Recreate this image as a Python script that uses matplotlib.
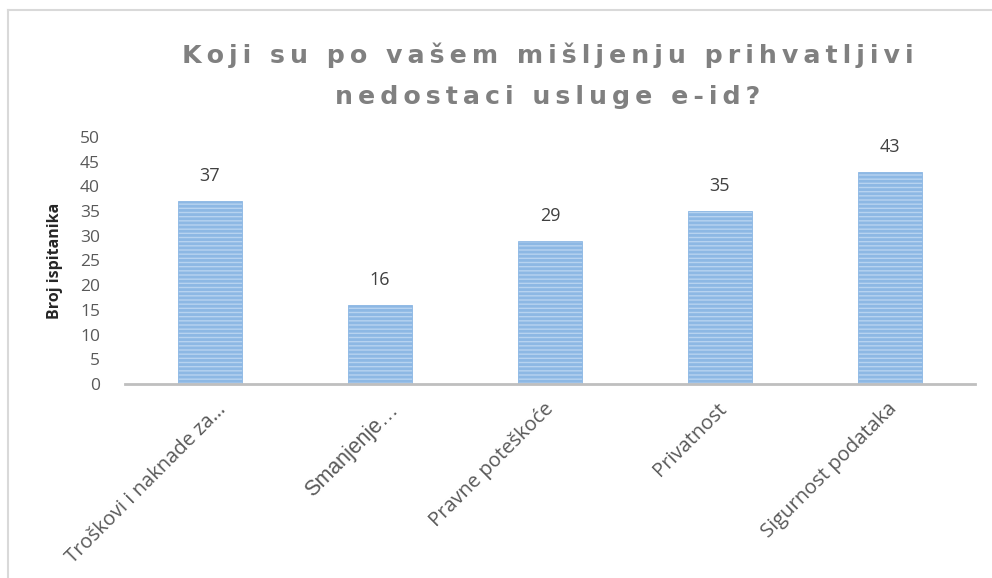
import matplotlib
matplotlib.use("Agg")
import matplotlib.pyplot as plt
import matplotlib.transforms as mtransforms
from matplotlib.lines import Line2D

categories = ["Troškovi i naknade za…", "Smanjenje…", "Pravne poteškoće", "Privatnost", "Sigurnost podataka"]
values = [37, 16, 29, 35, 43]
yticks = [0, 5, 10, 15, 20, 25, 30, 35, 40, 45, 50]
title_lines = ["Koji su po vašem mišljenju prihvatljivi", "nedostaci usluge e-id?"]
ylabel = "Broj ispitanika"

plt.rcParams['hatch.color'] = '#5B9BD5'
plt.rcParams['hatch.linewidth'] = 2.0

fig = plt.figure(figsize=(9.92, 5.78), dpi=100)
ax = fig.add_axes([125/992, 1-384/578, 850/992, (384-137)/578])

x = list(range(len(categories)))
ax.bar(x, values, width=0.38, color='#B7D3F0', edgecolor='#8DB8E4', linewidth=0.6,
       hatch='----', zorder=2)
for xi, v in zip(x, values):
    ax.text(xi, v + 3.2, str(v), ha='center', va='bottom', fontsize=13,
            color='#404040', family='Open Sans')

ax.set_xlim(-0.5, len(categories) - 0.5)
ax.set_ylim(0, 50)
ax.set_yticks(yticks)
ax.set_yticklabels([str(t) for t in yticks], fontsize=12.5, color='#595959', family='Open Sans')
ax.tick_params(axis='y', length=0, pad=18)
ax.tick_params(axis='x', length=0, pad=11)
ax.set_xticks(x)
labels = ax.set_xticklabels(categories, rotation=45, ha='right', rotation_mode='anchor',
                            fontsize=14.5, color='#595959', family='Open Sans')
labels[1].set_fontsize(15.5)
labels[1].set_family('Liberation Sans')
shifts_px = [6, 8, -6, -3, -3]
for lb, d in zip(labels, shifts_px):
    off = mtransforms.ScaledTranslation(d/100, 0, fig.dpi_scale_trans)
    lb.set_transform(lb.get_transform() + off)

for s in ['top', 'right', 'left']:
    ax.spines[s].set_visible(False)
ax.spines['bottom'].set_color('#BFBFBF')
ax.spines['bottom'].set_linewidth(2)
ax.spines['bottom'].set_zorder(3)

ax.set_ylabel(ylabel, fontsize=11.5, fontweight='bold', color='#262626', family='Open Sans', labelpad=12)

sp = '\u2009'
for i, line in enumerate(title_lines):
    fig.text(548/992, 1 - (55 + 42*i)/578, sp.join(line), ha='center', va='center',
             fontsize=18.2, fontweight='bold', color='#808080', family='DejaVu Sans')

# chart border
fig.add_artist(Line2D([8/992, 8/992], [0, 1-10/578], color='#D9D9D9', lw=1.5, transform=fig.transFigure))
fig.add_artist(Line2D([8/992, 1], [1-10/578, 1-10/578], color='#D9D9D9', lw=1.5, transform=fig.transFigure))

fig.savefig("out.png", dpi=100)
